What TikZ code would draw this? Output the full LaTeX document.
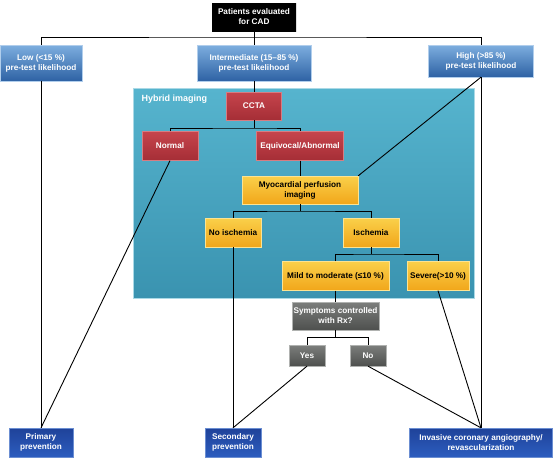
\documentclass[tikz,border=0pt]{standalone}
\usepackage{fontspec}
\setmainfont{Liberation Sans}
\usepackage{tikz}
\usetikzlibrary{shadows}
\definecolor{lighttop}{HTML}{7DAEDF}
\definecolor{lightbot}{HTML}{2E62A4}
\definecolor{navytop}{HTML}{1F4299}
\definecolor{navybot}{HTML}{2C5DBF}
\definecolor{redtop}{HTML}{C6444C}
\definecolor{redbot}{HTML}{A52E36}
\definecolor{yeltop}{HTML}{FAD04A}
\definecolor{yelbot}{HTML}{F1A61A}
\definecolor{greytop}{HTML}{7C7E7C}
\definecolor{greybot}{HTML}{4E504E}
\definecolor{hybtop}{HTML}{56B4CE}
\definecolor{hybbot}{HTML}{3A93B0}

\begin{document}
\begin{tikzpicture}[x=1pt, y=-1pt,
    box/.style={inner sep=1pt, align=center, font=\fontsize{8.2}{10}\selectfont\bfseries,
                drop shadow={opacity=0.25, shadow xshift=0.8pt, shadow yshift=-0.8pt}},
    blackbox/.style={box, fill=black, text=white},
    likebox/.style={box, top color=lighttop, bottom color=lightbot, text=white, draw=lighttop!60!white, line width=0.3pt},
    outbox/.style={box, top color=navytop, bottom color=navybot, text=white, draw=navybot!70!white, line width=0.3pt},
    ctbox/.style={box, top color=redtop, bottom color=redbot, text=white, draw=redtop!70!white, line width=0.3pt},
    mpibox/.style={box, top color=yeltop, bottom color=yelbot, text=black, draw=yeltop!60!white, line width=0.3pt},
    rxbox/.style={box, top color=greytop, bottom color=greybot, text=white, draw=greytop!60!white, line width=0.3pt},
    hybridbox/.style={top color=hybtop, bottom color=hybbot, draw=hybtop!50!white, line width=0.4pt, inner sep=0pt},
    conn/.style={line width=0.9pt, black}
]
    \useasboundingbox (0,0) rectangle (553,458);

    % hybrid imaging panel
    \node[hybridbox, minimum width=341pt, minimum height=209.5pt] (hybrid) at (303.5,193.25) {};
    \node[anchor=west, text=white, font=\fontsize{9}{10}\selectfont\bfseries] (hybridlbl) at (138,99) {Hybrid imaging};

    % top of the tree
    \node[blackbox, minimum width=84pt, minimum height=29pt] (pat) at (254,17) {Patients evaluated\\for CAD};
    \node[likebox, minimum width=82pt, minimum height=36pt] (low) at (41,63) {Low (<15 \%)\\pre-test likelihood};
    \node[likebox, minimum width=114pt, minimum height=36pt] (inter) at (254,63) {Intermediate (15--85 \%)\\pre-test likelihood};
    \node[likebox, minimum width=105pt, minimum height=32pt] (high) at (481,61) {High (>85 \%)\\pre-test likelihood};

    % inside the panel
    \node[ctbox, minimum width=55pt, minimum height=28pt] (ccta) at (254,106) {CCTA};
    \node[ctbox, minimum width=56pt, minimum height=29pt] (normal) at (170,146) {Normal};
    \node[ctbox, minimum width=87pt, minimum height=29pt] (equiv) at (300,146) {Equivocal/Abnormal};
    \node[mpibox, minimum width=116pt, minimum height=28pt] (mpi) at (300,190) {Myocardial perfusion\\imaging};
    \node[mpibox, minimum width=56pt, minimum height=29pt] (noisch) at (233,232.5) {No ischemia};
    \node[mpibox, minimum width=56pt, minimum height=29pt] (isch) at (371,232.5) {Ischemia};
    \node[mpibox, minimum width=107pt, minimum height=29pt] (mild) at (335.5,276) {Mild to moderate (≤10 \%)};
    \node[mpibox, minimum width=62pt, minimum height=29pt] (severe) at (438,276) {Severe(>10 \%)};

    % below the panel
    \node[rxbox, minimum width=87pt, minimum height=28pt] (sympt) at (335.5,316) {Symptoms controlled\\with Rx?};
    \node[rxbox, minimum width=36pt, minimum height=21pt] (yes) at (307,355.5) {Yes};
    \node[rxbox, minimum width=36pt, minimum height=21pt] (no) at (368,355.5) {No};

    % outcomes
    \node[outbox, minimum width=64pt, minimum height=29pt] (primary) at (41,442.5) {Primary\\prevention};
    \node[outbox, minimum width=56pt, minimum height=29pt] (secondary) at (233,442.5) {Secondary\\prevention};
    \node[outbox, minimum width=143pt, minimum height=29pt] (invasive) at (481,442.5) {Invasive coronary angiography/\\revascularization};

    % split points
    \coordinate (split) at (254,37);
    \coordinate (ctsplit) at (254,128);
    \coordinate (mpisplit) at (300,211);
    \coordinate (ischsplit) at (371,254);
    \coordinate (rxsplit) at (335.5,337.3);

    % tree connectors
    \draw[conn] (pat) -- (inter);
    \draw[conn] (low.north) |- (split) -| (high.north);
    \draw[conn] (inter) -- (ccta);
    \draw[conn] (ccta) -- (ctsplit);
    \draw[conn] (normal.north) |- (ctsplit) -| (equiv.north);
    \draw[conn] (equiv) -- (mpi);
    \draw[conn] (mpi) -- (mpisplit);
    \draw[conn] (noisch.north) |- (mpisplit) -| (isch.north);
    \draw[conn] (isch) -- (ischsplit);
    \draw[conn] (mild.north) |- (ischsplit) -| (severe.north);
    \draw[conn] (mild) -- (sympt);
    \draw[conn] (sympt) -- (rxsplit);
    \draw[conn] (yes.north) |- (rxsplit) -| (no.north);

    % outcome connectors
    \draw[conn] (low.south) -- (primary.north);
    \draw[conn] (normal.south) -- (primary.north);
    \draw[conn] (noisch.south) -- (secondary.north);
    \draw[conn] (yes.south) -- (secondary.north);
    \draw[conn] (high.south) -- (mpi.north east);
    \draw[conn] (high.south) -- (invasive.north);
    \draw[conn] (severe.south) -- (invasive.north);
    \draw[conn] (no.south) -- (invasive.north);
\end{tikzpicture}
\end{document}
